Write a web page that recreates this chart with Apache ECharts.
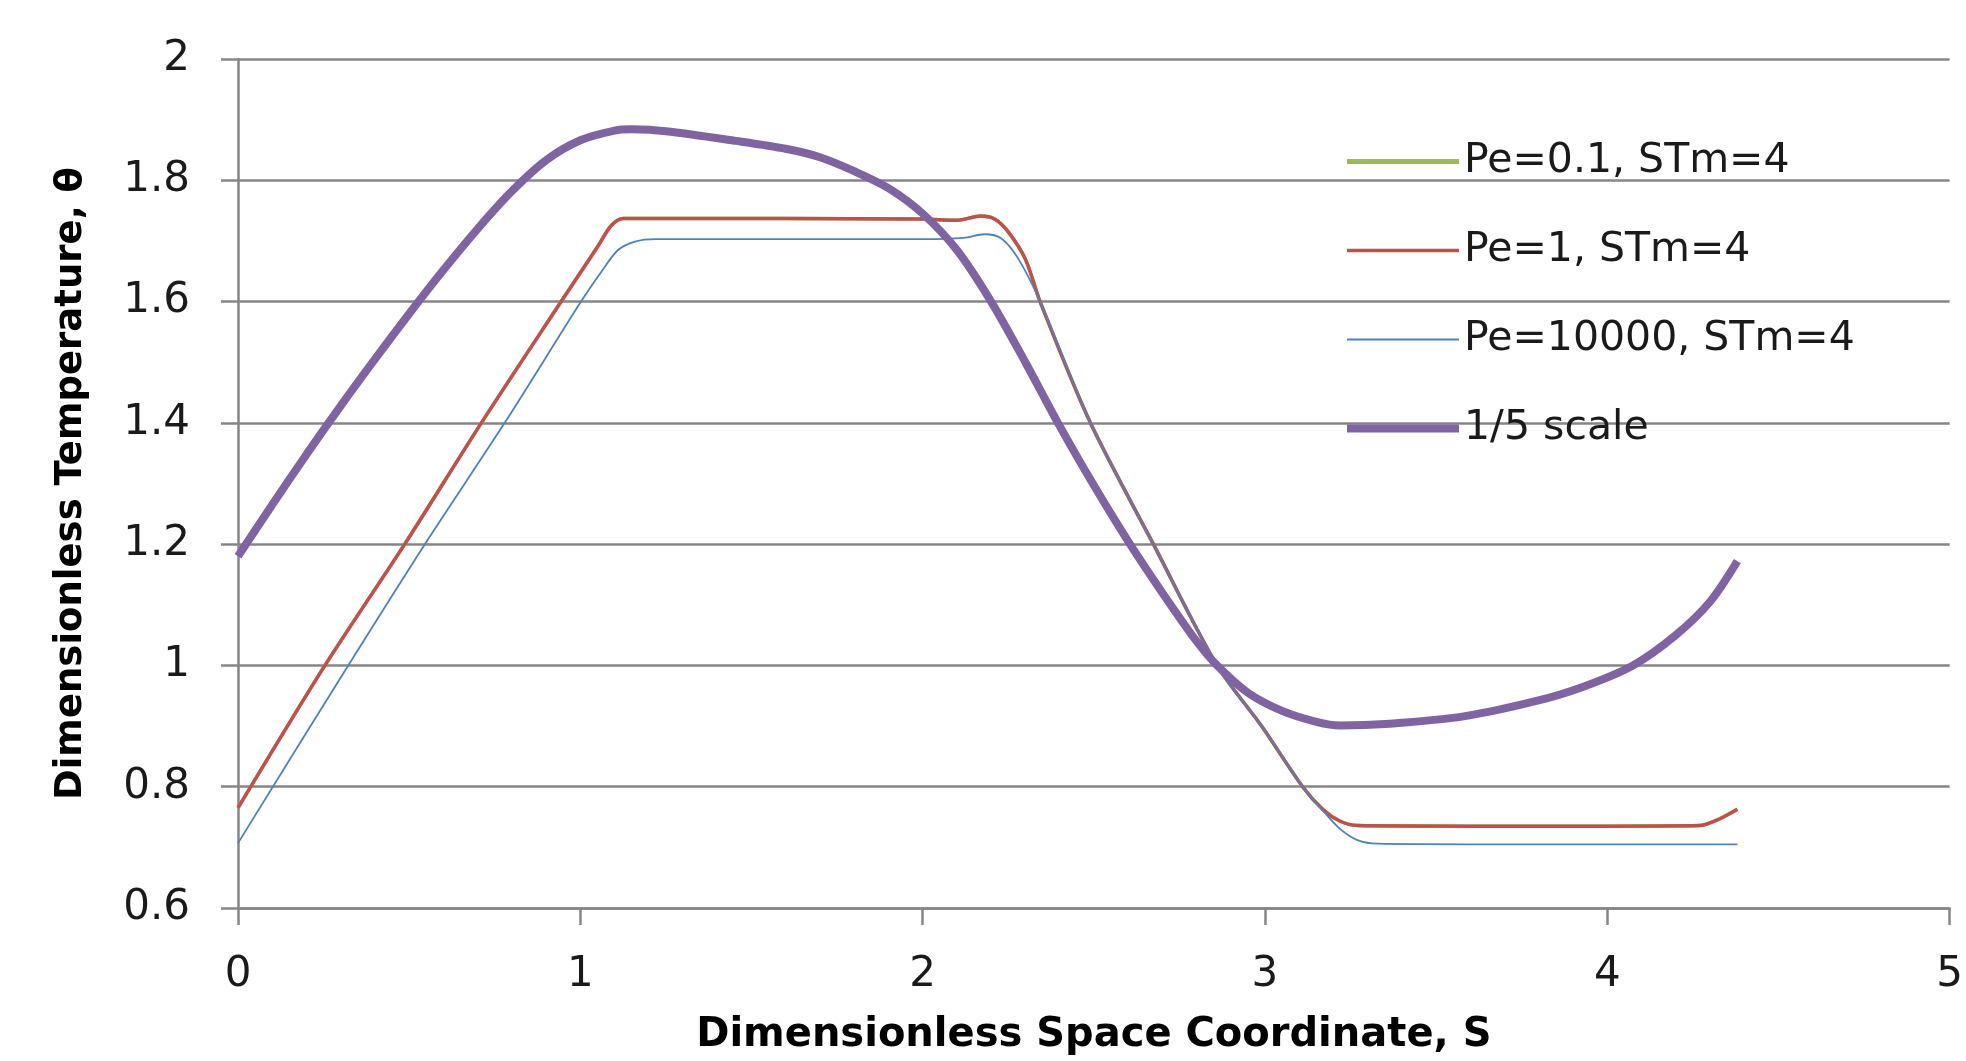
<!DOCTYPE html>
<html>
<head>
<meta charset="utf-8">
<script src="https://cdn.jsdelivr.net/npm/echarts@6/dist/echarts.min.js"></script>
<style>
html,body{margin:0;padding:0;background:#fff;}
#chart{width:1966px;height:1061px;}
</style>
</head>
<body>
<div id="chart"></div>
<script>
// ---- data ----
const seriesNames = ['Pe=0.1, STm=4', 'Pe=1, STm=4', 'Pe=10000, STm=4', '1/5 scale'];

const xTicks = [0, 1, 2, 3, 4, 5];
const yTicks = [0.6, 0.8, 1, 1.2, 1.4, 1.6, 1.8, 2];

// Pe=0.1 (hidden beneath Pe=1 in the reference)
const sGreen  = [0, 0.254, 0.487, 0.711, 0.944, 1.05, 1.09, 1.125, 1.2, 1.6, 2.0, 2.1, 2.17, 2.21, 2.25, 2.3, 2.343, 2.49, 2.674, 2.86, 2.99, 3.11, 3.17, 3.22, 3.27, 3.6, 4.0, 4.27, 4.32, 4.38];
const thGreen = [0.765, 1.0, 1.2, 1.4, 1.6, 1.69, 1.725, 1.737, 1.737, 1.737, 1.736, 1.734, 1.741, 1.736, 1.715, 1.67, 1.6, 1.4, 1.2, 1.0, 0.9, 0.8, 0.762, 0.743, 0.736, 0.735, 0.735, 0.736, 0.745, 0.763];

// Pe=1
const sRed  = [0, 0.254, 0.487, 0.711, 0.944, 1.05, 1.09, 1.125, 1.2, 1.6, 2.0, 2.1, 2.17, 2.21, 2.25, 2.3, 2.343, 2.49, 2.674, 2.86, 2.99, 3.11, 3.17, 3.22, 3.27, 3.6, 4.0, 4.27, 4.32, 4.38];
const thRed = [0.765, 1.0, 1.2, 1.4, 1.6, 1.69, 1.725, 1.737, 1.737, 1.737, 1.736, 1.734, 1.741, 1.736, 1.715, 1.67, 1.6, 1.4, 1.2, 1.0, 0.9, 0.8, 0.762, 0.743, 0.736, 0.735, 0.735, 0.736, 0.745, 0.763];

// Pe=10000
const sBlue  = [0, 0.322, 0.546, 0.779, 1.002, 1.06, 1.11, 1.16, 1.22, 1.6, 2.0, 2.12, 2.18, 2.23, 2.28, 2.343, 2.49, 2.674, 2.86, 2.99, 3.11, 3.17, 3.22, 3.27, 3.33, 3.6, 4.0, 4.38];
const thBlue = [0.707, 1.0, 1.2, 1.4, 1.6, 1.648, 1.685, 1.699, 1.703, 1.703, 1.703, 1.705, 1.711, 1.704, 1.67, 1.6, 1.4, 1.2, 1.0, 0.9, 0.8, 0.76, 0.73, 0.712, 0.706, 0.705, 0.705, 0.705];

// 1/5 scale
const sPurple  = [0, 0.1, 0.2, 0.3, 0.4, 0.5, 0.6, 0.7, 0.8, 0.9, 1.0, 1.1, 1.15, 1.25, 1.455, 1.6, 1.7, 1.8, 1.9, 2.0, 2.1, 2.2, 2.3, 2.4, 2.5, 2.6, 2.7, 2.8, 2.86, 2.95, 3.05, 3.15, 3.22, 3.365, 3.58, 3.79, 3.93, 4.075, 4.2, 4.3, 4.38];
const thPurple = [1.18, 1.265, 1.348, 1.428, 1.505, 1.58, 1.652, 1.72, 1.782, 1.833, 1.866, 1.882, 1.884, 1.881, 1.865, 1.852, 1.838, 1.815, 1.787, 1.745, 1.685, 1.6, 1.5, 1.395, 1.297, 1.205, 1.12, 1.04, 1.0, 0.955, 0.925, 0.907, 0.901, 0.904, 0.916, 0.941, 0.965, 1.0, 1.05, 1.105, 1.172];

const colors = ['#9bbb59', '#c0504d', '#4f81bd', '#8064a2'];
const widths = [3.5, 3.5, 1.8, 8];
const legendWidths = [5, 3.5, 1.8, 8];

function zip(xs, ys) { return xs.map((x, i) => [x, ys[i]]); }
const allData = [zip(sGreen, thGreen), zip(sRed, thRed), zip(sBlue, thBlue), zip(sPurple, thPurple)];

const FONT = '"DejaVu Sans", Verdana, sans-serif';
const chart = echarts.init(document.getElementById('chart'), null, {renderer: 'canvas'});

chart.setOption({
  animation: false,
  backgroundColor: '#ffffff',
  grid: {left: 238, right: 10, top: 59, bottom: 152, containLabel: false},
  legend: {
    orient: 'vertical',
    left: 1338,
    top: 136,
    itemWidth: 112,
    itemHeight: 14,
    itemGap: 48,
    itemStyle: {opacity: 0},
    data: seriesNames.map((n, i) => ({name: n, itemStyle: {opacity: 0}, lineStyle: {width: legendWidths[i], color: colors[i]}})),
    textStyle: {fontFamily: FONT, fontSize: 41, color: '#1a1a1a', lineHeight: 41}
  },
  xAxis: {
    type: 'value',
    min: xTicks[0],
    max: xTicks[xTicks.length - 1],
    interval: 1,
    name: 'Dimensionless Space Coordinate, S',
    nameLocation: 'middle',
    nameGap: 108,
    nameTextStyle: {fontFamily: FONT, fontSize: 40, fontWeight: 'bold', color: '#000'},
    axisLine: {show: true, lineStyle: {color: '#868686', width: 2.5}},
    axisTick: {show: true, inside: false, length: 17, lineStyle: {color: '#868686', width: 2.5}},
    axisLabel: {fontFamily: FONT, fontSize: 42, color: '#1a1a1a', margin: 46},
    splitLine: {show: false}
  },
  yAxis: {
    type: 'value',
    min: yTicks[0],
    max: yTicks[yTicks.length - 1],
    interval: 0.2,
    name: 'Dimensionless Temperature, θ',
    nameLocation: 'middle',
    nameGap: 148,
    nameTextStyle: {fontFamily: FONT, fontSize: 37, fontWeight: 'bold', color: '#000'},
    axisLine: {show: true, lineStyle: {color: '#868686', width: 2.5}},
    axisTick: {show: true, inside: false, length: 17, lineStyle: {color: '#868686', width: 2.5}},
    axisLabel: {fontFamily: FONT, fontSize: 42, color: '#1a1a1a', margin: 48,
      formatter: v => String(Math.round(v * 10) / 10)},
    splitLine: {show: true, lineStyle: {color: '#868686', width: 2.5}}
  },
  series: seriesNames.map((n, i) => ({
    name: n,
    type: 'line',
    data: allData[i],
    smooth: 0.3,
    symbol: 'none',
    color: colors[i],
    lineStyle: {color: colors[i], width: widths[i]},
    z: 2 + i
  }))
});
</script>
</body>
</html>
